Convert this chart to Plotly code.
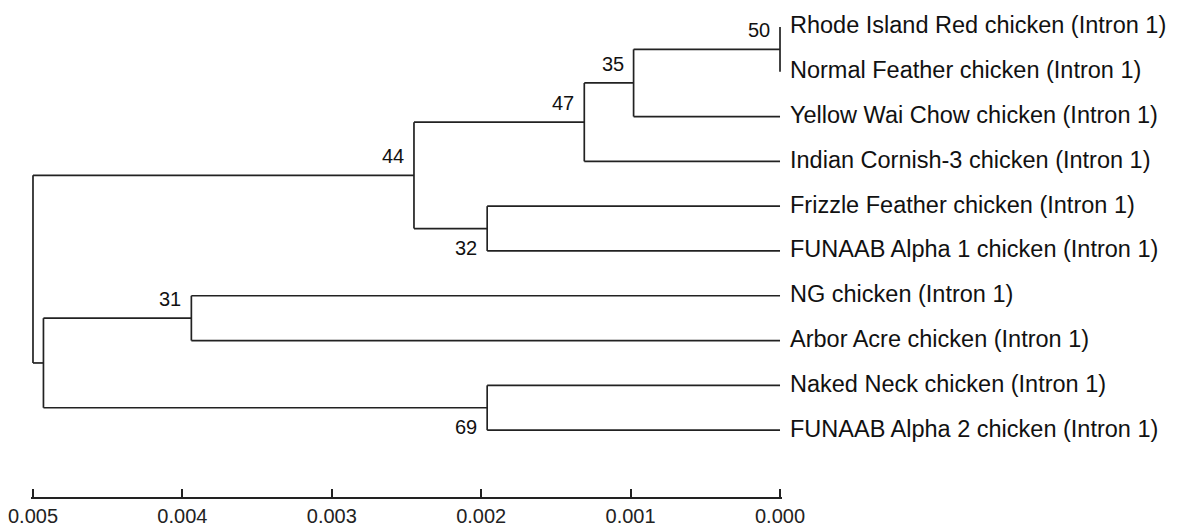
import plotly.graph_objects as go

# ---- data ----
leaf_names = [
    "Rhode Island Red chicken (Intron 1)",
    "Normal Feather chicken (Intron 1)",
    "Yellow Wai Chow chicken (Intron 1)",
    "Indian Cornish-3 chicken (Intron 1)",
    "Frizzle Feather chicken (Intron 1)",
    "FUNAAB Alpha 1 chicken (Intron 1)",
    "NG chicken (Intron 1)",
    "Arbor Acre chicken (Intron 1)",
    "Naked Neck chicken (Intron 1)",
    "FUNAAB Alpha 2 chicken (Intron 1)",
]
node_ids = ["n1", "n2", "n3", "n4", "n5", "n6", "n7", "n8", "root"]
node_left = [leaf_names[0], "n1", "n2", leaf_names[4], "n3", leaf_names[6], leaf_names[8], "n6", "n5"]
node_right = [leaf_names[1], leaf_names[2], leaf_names[3], leaf_names[5], "n4", leaf_names[7], leaf_names[9], "n7", "n8"]
node_height = [0.0, 0.00098, 0.00131, 0.00196, 0.00245, 0.00394, 0.00196, 0.00493, 0.00500]
node_support = [50, 35, 47, 32, 44, 31, 69, None, None]
support_below = {"n4", "n7"}

tick_vals = [0.005, 0.004, 0.003, 0.002, 0.001, 0.000]
tick_text = ["0.005", "0.004", "0.003", "0.002", "0.001", "0.000"]

# ---- layout of tree from data ----
ypos = {name: i for i, name in enumerate(leaf_names)}
xpos = {name: 0.0 for name in leaf_names}
for nid, l, r, h in zip(node_ids, node_left, node_right, node_height):
    ypos[nid] = (ypos[l] + ypos[r]) / 2
    xpos[nid] = h

xs, ys = [], []
for nid, l, r in zip(node_ids, node_left, node_right):
    h = xpos[nid]
    xs += [h, h, None]
    ys += [ypos[l], ypos[r], None]
    for c in (l, r):
        xs += [xpos[c], h, None]
        ys += [ypos[c], ypos[c], None]

LINE = "#222222"
FONT = "Liberation Sans, Arial, sans-serif"

fig = go.Figure()
fig.add_trace(go.Scatter(x=xs, y=ys, mode="lines",
                         line=dict(color=LINE, width=1.7),
                         hoverinfo="skip", showlegend=False))

annotations = []
for name in leaf_names:
    annotations.append(dict(x=xpos[name], y=ypos[name], xref="x", yref="y",
                            text=name, showarrow=False, xanchor="left",
                            yanchor="middle", xshift=8, yshift=1.5,
                            font=dict(family=FONT, size=23.5, color="#111111")))
for nid, s in zip(node_ids, node_support):
    if s is None:
        continue
    below = nid in support_below
    annotations.append(dict(x=xpos[nid], y=ypos[nid], xref="x", yref="y",
                            text=str(s), showarrow=False, xanchor="right",
                            yanchor="top" if below else "bottom",
                            xshift=-8, yshift=-6 if below else 6,
                            font=dict(family=FONT, size=20, color="#111111")))

# page body has an 8px margin; figure sized to fit the window without scrollbars
px_unit = 149800.0
pad = 2 / px_unit
fig.update_layout(
    width=1169, height=519,
    margin=dict(l=21, r=395, t=0, b=29),
    paper_bgcolor="white", plot_bgcolor="white",
    annotations=annotations,
    xaxis=dict(range=[0.005 + pad, -pad], tickvals=tick_vals, ticktext=tick_text,
               ticks="inside", ticklen=8, tickwidth=1.5, tickcolor=LINE,
               showline=True, linecolor=LINE, linewidth=1.7,
               showgrid=False, zeroline=False, ticklabeloverflow="allow",
               tickfont=dict(family=FONT, size=20, color="#222222")),
    yaxis=dict(range=[10.492, -0.4233], visible=False, showgrid=False, zeroline=False),
)
fig.write_html("out.html")
